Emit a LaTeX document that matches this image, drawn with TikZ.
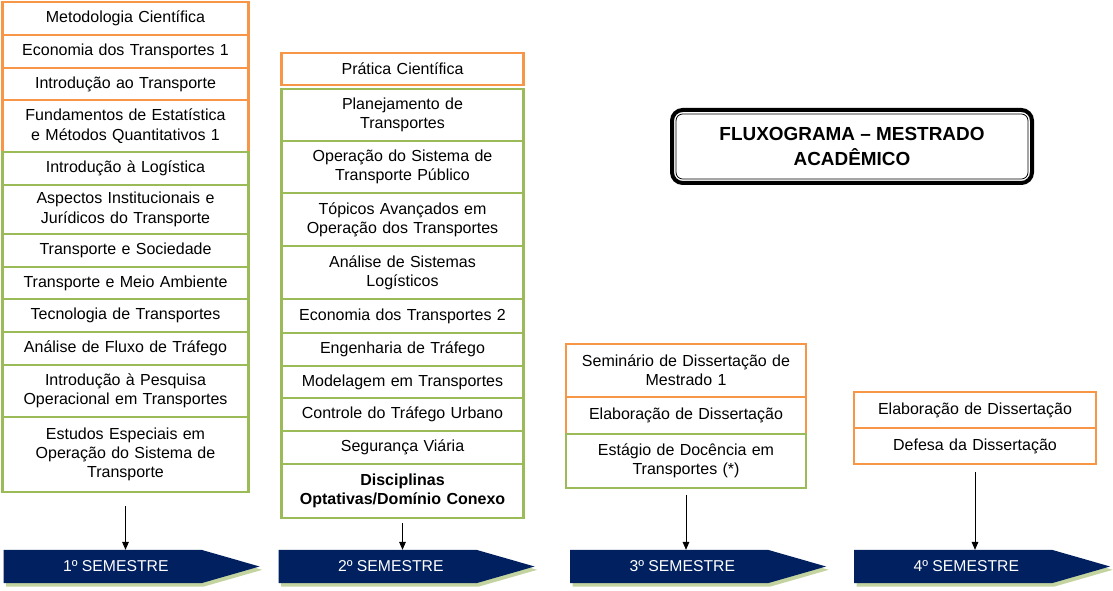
\documentclass[tikz,border=0pt]{standalone}
\usepackage{fontspec}
\setmainfont{Liberation Sans}
\usetikzlibrary{positioning,shapes.symbols,shadows,arrows.meta}
\definecolor{laranja}{RGB}{247,150,70}
\definecolor{verde}{RGB}{155,187,89}
\definecolor{azulsem}{RGB}{0,32,96}
\definecolor{sombra}{RGB}{196,212,160}

\begin{document}
\begin{tikzpicture}[x=0.75pt, y=-0.75pt, node distance=0pt,
    disc/.style={draw, line width=2.2pt, fill=white, align=center, inner sep=1pt, outer sep=0pt,
        text width=172pt, font=\fontsize{12}{14.5}\selectfont},
    obrig/.style={disc, draw=laranja},
    compl/.style={disc, draw=verde},
    semestre/.style={shape=signal, signal to=east, signal from=nowhere, signal pointer angle=32,
        fill=azulsem, minimum width=192pt, minimum height=25pt, inner sep=0pt, outer sep=0pt,
        drop shadow={shadow xshift=2pt, shadow yshift=-2.5pt, fill=sombra, opacity=1}},
    semtexto/.style={text=white, font=\fontsize{11.8}{14}\selectfont, xshift=10pt},
    seta/.style={-{Triangle[length=6pt,width=5pt]}, line width=0.7pt}]
    \useasboundingbox (0,0) rectangle (1113,591);

    % 1o semestre
    \node[obrig, minimum width=184pt, minimum height=24.75pt, anchor=north] (metodo) at (125.5,2) {Metodologia Científica};
    \node[obrig, minimum width=184pt, minimum height=24.75pt, below=of metodo] (econ1) {Economia dos Transportes 1};
    \node[obrig, minimum width=184pt, minimum height=24pt, below=of econ1] (introtr) {Introdução ao Transporte};
    \node[obrig, minimum width=184pt, minimum height=39pt, below=of introtr] (fundest) {Fundamentos de Estatística\\e Métodos Quantitativos 1};
    \node[compl, minimum width=184pt, minimum height=24.75pt, below=of fundest] (introlog) {Introdução à Logística};
    \node[compl, minimum width=184pt, minimum height=36.75pt, below=of introlog] (aspectos) {Aspectos Institucionais e\\Jurídicos do Transporte};
    \node[compl, minimum width=184pt, minimum height=24.75pt, below=of aspectos] (transsoc) {Transporte e Sociedade};
    \node[compl, minimum width=184pt, minimum height=24pt, below=of transsoc] (meioamb) {Transporte e Meio Ambiente};
    \node[compl, minimum width=184pt, minimum height=24.75pt, below=of meioamb] (tecno) {Tecnologia de Transportes};
    \node[compl, minimum width=184pt, minimum height=24.75pt, below=of tecno] (fluxo) {Análise de Fluxo de Tráfego};
    \node[compl, minimum width=184pt, minimum height=39pt, below=of fluxo] (pesqop) {Introdução à Pesquisa\\Operacional em Transportes};
    \node[compl, minimum width=184pt, minimum height=56.25pt, below=of pesqop] (estudos) {Estudos Especiais em\\Operação do Sistema de\\Transporte};

    % 2o semestre
    \node[obrig, minimum width=181pt, minimum height=24pt, anchor=north] (pratica) at (402.5,53) {Prática Científica};
    \node[compl, minimum width=181pt, minimum height=39pt, anchor=north] (planej) at (402.5,89) {Planejamento de\\Transportes};
    \node[compl, minimum width=181pt, minimum height=39pt, below=of planej] (opstp) {Operação do Sistema de\\Transporte Público};
    \node[compl, minimum width=181pt, minimum height=39.75pt, below=of opstp] (topicos) {Tópicos Avançados em\\Operação dos Transportes};
    \node[compl, minimum width=181pt, minimum height=39.75pt, below=of topicos] (sislog) {Análise de Sistemas\\Logísticos};
    \node[compl, minimum width=181pt, minimum height=25.5pt, below=of sislog] (econ2) {Economia dos Transportes 2};
    \node[compl, minimum width=181pt, minimum height=24.75pt, below=of econ2] (engtraf) {Engenharia de Tráfego};
    \node[compl, minimum width=181pt, minimum height=24pt, below=of engtraf] (modelag) {Modelagem em Transportes};
    \node[compl, minimum width=181pt, minimum height=24.75pt, below=of modelag] (controle) {Controle do Tráfego Urbano};
    \node[compl, minimum width=181pt, minimum height=24.75pt, below=of controle] (seguranca) {Segurança Viária};
    \node[compl, minimum width=181pt, minimum height=40.5pt, below=of seguranca,
        font=\fontsize{12}{14.5}\selectfont\bfseries] (optativas) {Disciplinas\\Optativas/Domínio Conexo};

    % 3o semestre
    \node[obrig, minimum width=180pt, minimum height=39.75pt, anchor=north] (seminario) at (686,344) {Seminário de Dissertação de\\Mestrado 1};
    \node[obrig, minimum width=180pt, minimum height=27.75pt, below=of seminario] (elab3) {Elaboração de Dissertação};
    \node[compl, minimum width=180pt, minimum height=40.5pt, below=of elab3] (estagio) {Estágio de Docência em\\Transportes (*)};

    % 4o semestre
    \node[obrig, minimum width=181.5pt, minimum height=27pt, anchor=north] (elab4) at (975,392) {Elaboração de Dissertação};
    \node[obrig, minimum width=181.5pt, minimum height=27pt, below=of elab4] (defesa) {Defesa da Dissertação};

    % titulo
    \node[draw, line width=3pt, rounded corners=8pt, minimum width=270pt, minimum height=54.75pt,
        align=center, font=\fontsize{14.2}{19}\selectfont\bfseries] (titulo) at (852,146.5) {FLUXOGRAMA – MESTRADO\\ACADÊMICO};
    \draw[line width=0.6pt, rounded corners=5pt] ([xshift=4.5pt,yshift=-4.5pt]titulo.north west) rectangle ([xshift=-4.5pt,yshift=4.5pt]titulo.south east);

    % setas dos semestres
    \node[semestre, label={[semtexto]center:1º SEMESTRE}] (sem1) at (102.5,566.5) {};
    \node[semestre, label={[semtexto]center:2º SEMESTRE}] (sem2) at (377.5,566.5) {};
    \node[semestre, label={[semtexto]center:3º SEMESTRE}] (sem3) at (669,566.5) {};
    \node[semestre, label={[semtexto]center:4º SEMESTRE}] (sem4) at (953,566.5) {};

    \draw[seta] ([yshift=-10.5pt]estudos.south) -- (estudos.south |- sem1.north);
    \draw[seta] ([yshift=-4pt]optativas.south) -- (optativas.south |- sem2.north);
    \draw[seta] ([yshift=-5pt]estagio.south) -- (estagio.south |- sem3.north);
    \draw[seta] ([yshift=-6pt]defesa.south) -- (defesa.south |- sem4.north);
\end{tikzpicture}
\end{document}
